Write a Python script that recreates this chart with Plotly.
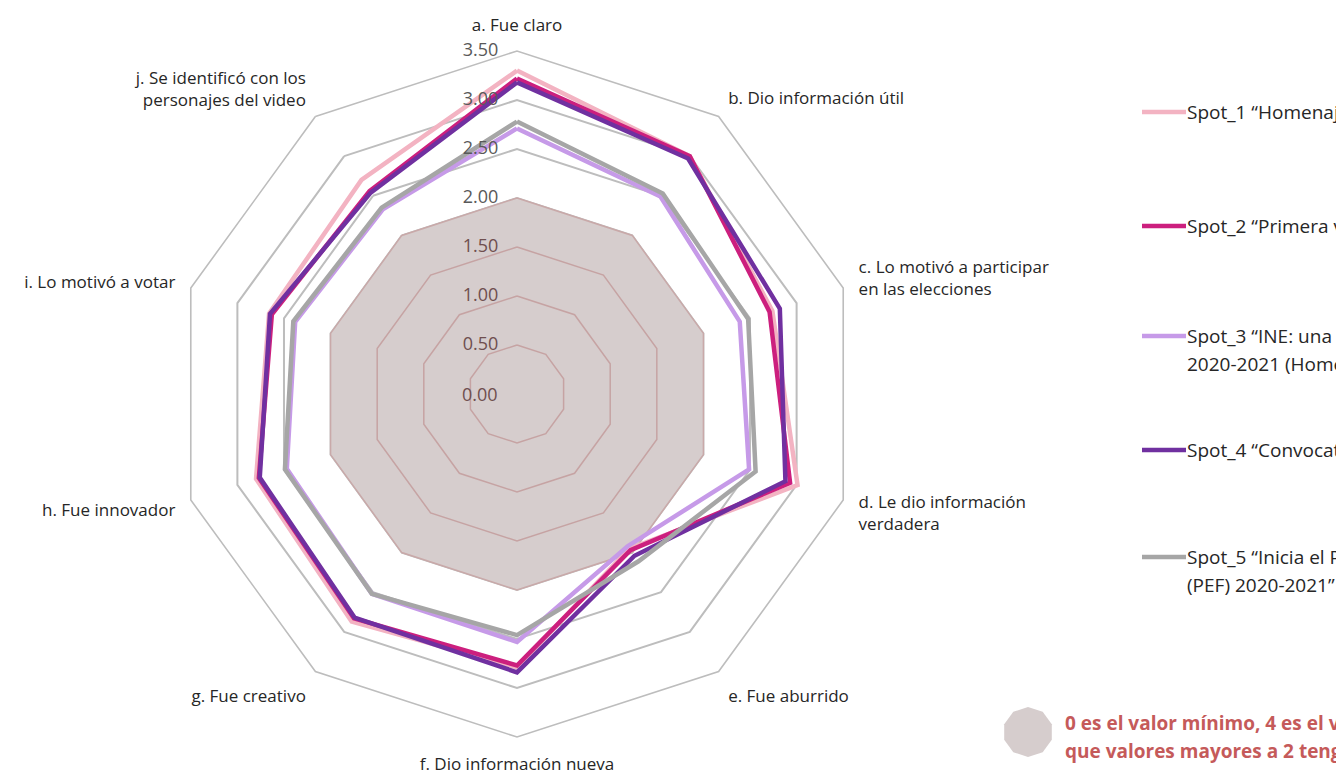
import plotly.graph_objects as go
import numpy as np

categories = [
    "a. Fue claro",
    "b. Dio información útil",
    "c. Lo motivó a participar<br>en las elecciones",
    "d. Le dio información<br>verdadera",
    "e. Fue aburrido",
    "f. Dio información nueva",
    "g. Fue creativo",
    "h. Fue innovador",
    "i. Lo motivó a votar",
    "j. Se identificó con los<br>personajes del video",
]

spot1 = [3.30, 3.00, 2.74, 3.01, 1.95, 2.79, 2.87, 2.80, 2.66, 2.70]
spot2 = [3.22, 3.00, 2.71, 2.93, 1.97, 2.77, 2.83, 2.77, 2.63, 2.56]
spot3 = [2.71, 2.49, 2.39, 2.49, 1.92, 2.53, 2.52, 2.47, 2.38, 2.33]
spot4 = [3.18, 2.97, 2.82, 2.88, 2.04, 2.84, 2.82, 2.76, 2.65, 2.54]
spot5 = [2.78, 2.53, 2.48, 2.56, 2.11, 2.46, 2.52, 2.49, 2.40, 2.35]

series_names = [
    "Spot_1 “Homenaje”",
    "Spot_2 “Primera vez”",
    "Spot_3 “INE: una elección",
    "Spot_4 “Convocatoria”",
    "Spot_5 “Inicia el Proceso Electoral Federal",
]
series_second_line = [None, None, "2020-2021 (Homenaje)”", None, "(PEF) 2020-2021”"]
series_values = [spot1, spot2, spot3, spot4, spot5]
series_colors = ["#f3b3c2", "#cc1f7e", "#c69ae8", "#7030a0", "#a6a6a6"]

threshold = 2.0
tick_values = [0.0, 0.5, 1.0, 1.5, 2.0, 2.5, 3.0, 3.5]
tick_labels = ["0.00", "0.50", "1.00", "1.50", "2.00", "2.50", "3.00", "3.50"]
note_lines = ["0 es el valor mínimo, 4 es el valor máximo. Se considera",
              "que valores mayores a 2 tengan una valoración positiva"]

FONT = "'Open Sans', Lato, sans-serif"
W, H = 1336, 778
BROWN, GREY_TXT = "#6f4f4f", "#595959"

theta_closed = categories + [categories[0]]

fig = go.Figure()

# shaded zone (values up to the threshold)
fig.add_trace(go.Scatterpolar(
    r=[threshold] * (len(categories) + 1), theta=theta_closed,
    mode="lines", fill="toself", fillcolor="#d6cdcd",
    line=dict(color="#c9a9a9", width=1.5), hoverinfo="skip", showlegend=False))

# rings inside the shaded zone
for v in tick_values:
    if 0 < v < threshold:
        fig.add_trace(go.Scatterpolar(
            r=[v] * (len(categories) + 1), theta=theta_closed, mode="lines",
            line=dict(color="#c6a3a3", width=1.5), hoverinfo="skip", showlegend=False))

# data series
for name, vals, col in zip(series_names, series_values, series_colors):
    fig.add_trace(go.Scatterpolar(
        r=vals + [vals[0]], theta=theta_closed, mode="lines", name=name,
        line=dict(color=col, width=4.5), showlegend=False))

# radial tick labels (non-zero ones along the first axis)
nz = [(v, t) for v, t in zip(tick_values, tick_labels) if v > 0]
fig.add_trace(go.Scatterpolar(
    r=[v for v, _ in nz], theta=[categories[0]] * len(nz), mode="text",
    text=[t + "\u00a0\u00a0\u00a0\u00a0" for _, t in nz],
    textposition="middle left", cliponaxis=False,
    textfont=dict(family=FONT, size=18,
                  color=[BROWN if v < threshold else GREY_TXT for v, _ in nz]),
    hoverinfo="skip", showlegend=False))

cx, cy, R = 517, 394, 343
dom_x = [(cx - R) / W, (cx + R) / W]
dom_y = [1 - (cy + R) / H, 1 - (cy - R) / H]
fig.update_layout(
    width=W, height=H,
    margin=dict(l=0, r=0, t=0, b=0),
    paper_bgcolor="white",
    font=dict(family=FONT, size=17, color="#404040"),
    showlegend=False,
    polar=dict(
        domain=dict(x=dom_x, y=dom_y),
        gridshape="linear",
        bgcolor="white",
        radialaxis=dict(range=[0, 3.5], dtick=0.5, tick0=0, showticklabels=False,
                        ticks="", showline=False, gridcolor="#bdbdbd", gridwidth=1.6),
        angularaxis=dict(direction="clockwise", rotation=90, showgrid=False,
                         showline=True, linecolor="#bdbdbd", linewidth=1.6,
                         ticks="outside", ticklen=12, tickcolor="rgba(0,0,0,0)",
                         categoryorder="array", categoryarray=categories,
                         tickfont=dict(family=FONT, size=17, color="#262626")),
    ),
)

shapes = []
annotations = []

# label for the centre value (pole of the polar area)
zero_label = [t for v, t in zip(tick_values, tick_labels) if v == 0][0]
annotations.append(dict(text=zero_label, xref="paper", yref="paper",
                        x=sum(dom_x) / 2, y=sum(dom_y) / 2, xanchor="right",
                        yanchor="middle", xshift=-17, showarrow=False,
                        font=dict(family=FONT, size=18, color=BROWN)))

# manual legend
leg_x0, leg_x1, text_x = 1142, 1186, 1185
leg_y = [112, 226, 336, 450, 557]
for name, second, col, y in zip(series_names, series_second_line, series_colors, leg_y):
    shapes.append(dict(type="line", xref="paper", yref="paper",
                       x0=leg_x0 / W, x1=leg_x1 / W, y0=1 - y / H, y1=1 - y / H,
                       line=dict(color=col, width=4.5)))
    annotations.append(dict(text=name, xref="paper", yref="paper", x=text_x / W,
                            y=1 - y / H, xanchor="left", yanchor="middle", showarrow=False,
                            font=dict(family=FONT, size=19, color="#262626")))
    if second:
        annotations.append(dict(text=second, xref="paper", yref="paper", x=text_x / W,
                                y=1 - (y + 28) / H, xanchor="left", yanchor="middle",
                                showarrow=False,
                                font=dict(family=FONT, size=19, color="#262626")))

# note icon (decagon)
ang = np.linspace(0, 2 * np.pi, 11)[:-1] + np.pi / 2
rad = 25
path = "M " + " L ".join(f"{rad*np.cos(a):.1f},{rad*np.sin(a):.1f}" for a in ang) + " Z"
shapes.append(dict(type="path", xref="paper", yref="paper", xsizemode="pixel",
                   ysizemode="pixel", xanchor=1028 / W, yanchor=1 - 732 / H, path=path,
                   fillcolor="#d6cdcd", line=dict(width=0)))
for i, line in enumerate(note_lines):
    annotations.append(dict(text=f"<b>{line}</b>", xref="paper", yref="paper",
                            x=1063 / W, y=1 - (723 + 28 * i) / H, xanchor="left",
                            yanchor="middle", showarrow=False,
                            font=dict(family=FONT, size=19, color="#c55a5a")))

fig.update_layout(shapes=shapes, annotations=annotations)
fig.write_html("out.html", config={"displayModeBar": False},
               post_script="document.body.style.margin='0';"
                           "document.body.style.overflow='hidden';")
